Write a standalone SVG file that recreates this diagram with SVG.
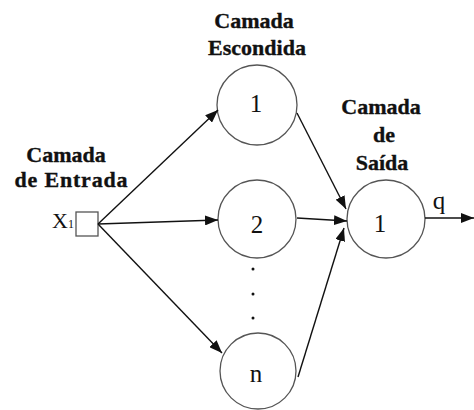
<svg xmlns="http://www.w3.org/2000/svg" width="474" height="410" viewBox="0 0 474 410">
<style>
.lbl{font-family:"Liberation Serif","Times New Roman",serif;font-weight:bold;font-size:22px;fill:#111;stroke:#111;stroke-width:0.35;text-anchor:middle}
.num{font-family:"Liberation Serif","Times New Roman",serif;font-size:25px;fill:#111;text-anchor:middle}
.node{fill:#fff;stroke:#555;stroke-width:1.3}
.edge{stroke:#111;stroke-width:1.4;fill:none;marker-end:url(#arr)}
</style>
<defs>
<marker id="arr" viewBox="0 0 13 10" refX="13" refY="5" markerWidth="13" markerHeight="10" markerUnits="userSpaceOnUse" orient="auto">
<path d="M0,0 L13,5 L0,10 z" fill="#111"/>
</marker>
</defs>
<rect width="474" height="410" fill="#fff"/>
<g id="labels">
<text class="lbl" x="254" y="28">Camada</text>
<text class="lbl" x="257" y="55">Escondida</text>
<text class="lbl" x="66" y="162">Camada</text>
<text class="lbl" x="71" y="187" textLength="113">de Entrada</text>
<text class="lbl" x="381" y="114">Camada</text>
<text class="lbl" x="384" y="142">de</text>
<text class="lbl" x="382" y="170">Saída</text>
</g>
<g id="input">
<rect class="node" x="76" y="212" width="22" height="24"/>
<text x="52" y="228" font-family="Liberation Serif, serif" font-size="22" fill="#111" textLength="16">X</text>
<text x="68" y="228" font-family="Liberation Serif, serif" font-size="12" fill="#111">1</text>
</g>
<g id="h1">
<circle class="node" cx="257" cy="105" r="40"/>
<text class="num" x="256" y="112">1</text>
</g>
<g id="h2">
<circle class="node" cx="257" cy="219" r="39"/>
<text class="num" x="257" y="233">2</text>
</g>
<g id="dots" fill="#111">
<circle cx="253" cy="269" r="1.5"/>
<circle cx="253" cy="294" r="1.5"/>
<circle cx="253" cy="318" r="1.5"/>
</g>
<g id="hn">
<circle class="node" cx="258" cy="371" r="38"/>
<text class="num" x="256" y="382">n</text>
</g>
<g id="out">
<circle class="node" cx="386" cy="219" r="39"/>
<text class="num" x="380" y="232">1</text>
<text class="num" x="439" y="209">q</text>
</g>
<g id="connectors">
<line class="edge" x1="98" y1="224" x2="218" y2="110"/>
<line class="edge" x1="98" y1="224" x2="218" y2="220"/>
<line class="edge" x1="98" y1="224" x2="222" y2="353"/>
<line class="edge" x1="297" y1="113" x2="346" y2="209"/>
<line class="edge" x1="297" y1="218" x2="347" y2="221"/>
<line class="edge" x1="298" y1="377" x2="344" y2="228"/>
<line class="edge" x1="425" y1="218" x2="474" y2="218"/>
</g>
</svg>
